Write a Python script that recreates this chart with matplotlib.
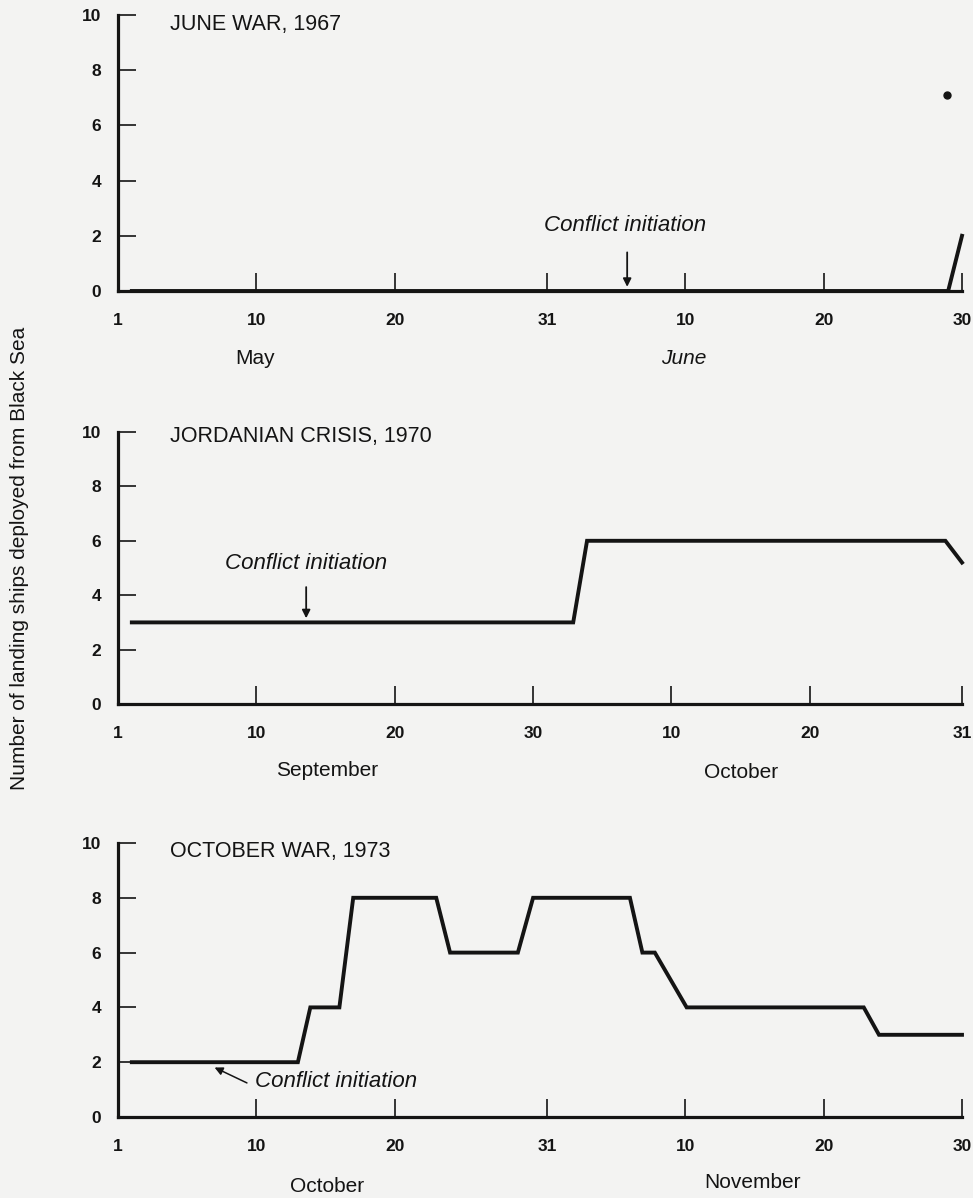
import matplotlib.pyplot as plt

plt.rcParams['font.family'] = ['Liberation Sans', 'DejaVu Sans']

# day index: day d of first month -> d, day d of second month -> len(first) + d
june_days = [1, 60, 61]
june_ships = [0, 0, 2]
june_dot_day = [59.9]
june_dot_val = [7.1]
june_conflict = 36.8

jordan_days = [1, 32.9, 33.9, 59.8, 61]
jordan_ships = [3, 3, 6, 6, 5.2]
jordan_conflict = 13.6

october_days = [1, 13, 13.9, 16, 17, 23, 24, 28.9, 30, 37, 37.9, 38.8, 41.1, 53.9, 55, 61]
october_ships = [2, 2, 4, 4, 8, 8, 6, 6, 8, 8, 6, 6, 4, 4, 3, 3]
october_conflict = 6.8

june_ticks = [0, 10, 20, 31, 41, 51, 61]
june_labels = ['1', '10', '20', '31', '10', '20', '30']
jordan_ticks = [0, 10, 20, 30, 40, 50, 61]
jordan_labels = ['1', '10', '20', '30', '10', '20', '31']
october_ticks = [0, 10, 20, 31, 41, 51, 61]
october_labels = ['1', '10', '20', '31', '10', '20', '30']

ink = '#141414'
paper = '#f3f3f2'

fig = plt.figure(figsize=(9.73, 11.98), dpi=100, facecolor=paper)

W, H = 973.0, 1198.0
left, right = 118, 962


def make_axes(top_px, bottom_px):
    ax = fig.add_axes([left / W, 1 - bottom_px / H, (right - left) / W, (bottom_px - top_px) / H])
    ax.set_facecolor('none')
    ax.set_xlim(0, 61)
    ax.set_ylim(0, 10)
    for s in ['top', 'right']:
        ax.spines[s].set_visible(False)
    for s in ['left', 'bottom']:
        ax.spines[s].set_linewidth(2.3)
        ax.spines[s].set_color(ink)
    ax.set_yticks([0, 2, 4, 6, 8, 10])
    ax.set_yticklabels(['0', '2', '4', '6', '8', '10'])
    ax.tick_params(axis='y', direction='in', length=13, width=1.2, pad=12, colors=ink,
                   labelsize=12.5)
    ax.tick_params(axis='x', direction='in', length=13, width=1.2, pad=16, colors=ink,
                   labelsize=12.5)
    for lab in ax.get_yticklabels():
        lab.set_fontweight('bold')
    return ax


def finish_x(ax, ticks, labels):
    ax.set_xticks(ticks)
    ax.set_xticklabels(labels)
    for lab in ax.get_xticklabels():
        lab.set_fontweight('bold')


# --- June War ---
ax1 = make_axes(15, 291)
finish_x(ax1, june_ticks, june_labels)
ax1.plot(june_days, june_ships, color=ink, lw=2.8, clip_on=False, solid_joinstyle='miter')
ax1.plot(june_dot_day, june_dot_val, 'o', color=ink, ms=5)
ax1.text(0.0616, 0.964, 'JUNE WAR, 1967', transform=ax1.transAxes, fontsize=15.5,
         va='center', ha='left', color=ink)
ax1.annotate('', xy=(june_conflict, 0.05), xytext=(june_conflict, 1.5),
             arrowprops=dict(arrowstyle='-|>', color=ink, lw=1.3, mutation_scale=12))
ax1.text(0.601, 0.239, 'Conflict initiation', transform=ax1.transAxes, fontsize=16,
         style='italic', ha='center', va='center', color=ink)
fig.text(255 / W, 1 - 358 / H, 'May', fontsize=15, ha='center', va='center', color=ink)
fig.text(684 / W, 1 - 358 / H, 'June', fontsize=15, style='italic', ha='center',
         va='center', color=ink)

# --- Jordanian Crisis ---
ax2 = make_axes(432, 704)
finish_x(ax2, jordan_ticks, jordan_labels)
ax2.plot(jordan_days, jordan_ships, color=ink, lw=2.8, clip_on=False, solid_joinstyle='miter')
ax2.text(0.0616, 0.985, 'JORDANIAN CRISIS, 1970', transform=ax2.transAxes, fontsize=15.5,
         va='center', ha='left', color=ink)
ax2.annotate('', xy=(jordan_conflict, 3.05), xytext=(jordan_conflict, 4.4),
             arrowprops=dict(arrowstyle='-|>', color=ink, lw=1.3, mutation_scale=12))
ax2.text((306 - left) / (right - left), 0.518, 'Conflict initiation', transform=ax2.transAxes,
         fontsize=16, style='italic', ha='center', va='center', color=ink)
fig.text(327 / W, 1 - 770 / H, 'September', fontsize=15, ha='center', va='center', color=ink)
fig.text(741 / W, 1 - 773 / H, 'October', fontsize=15, ha='center', va='center', color=ink)

# --- October War ---
ax3 = make_axes(843, 1117)
finish_x(ax3, october_ticks, october_labels)
ax3.plot(october_days, october_ships, color=ink, lw=2.8, clip_on=False, solid_joinstyle='miter')
ax3.text(0.0616, 0.97, 'OCTOBER WAR, 1973', transform=ax3.transAxes, fontsize=15.5,
         va='center', ha='left', color=ink)
ax3.annotate('', xy=(october_conflict, 1.85), xytext=(9.5, 1.2),
             arrowprops=dict(arrowstyle='-|>', color=ink, lw=1.1, mutation_scale=12))
ax3.text(9.9, 1.3, 'Conflict initiation', fontsize=16, style='italic', ha='left',
         va='center', color=ink)
fig.text(327 / W, 1 - 1186 / H, 'October', fontsize=15, ha='center', va='center', color=ink)
fig.text(753 / W, 1 - 1183 / H, 'November', fontsize=15, ha='center', va='center', color=ink)

fig.text(20 / W, 1 - 558 / H, 'Number of landing ships deployed from Black Sea',
         rotation=90, fontsize=15, ha='center', va='center', color=ink)

fig.savefig('out.png', dpi=100, facecolor=paper)
